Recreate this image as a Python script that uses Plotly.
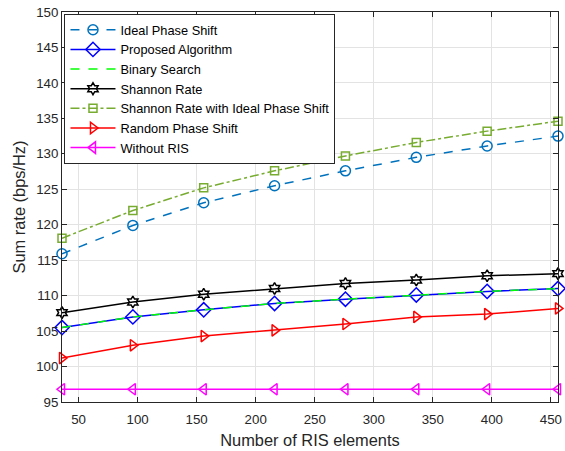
import plotly.graph_objects as go

ris_elements = [36, 96, 156, 216, 276, 336, 396, 456]
ideal_phase = [115.9, 119.9, 123.1, 125.5, 127.6, 129.5, 131.1, 132.5]
proposed = [105.5, 107.0, 108.0, 108.9, 109.5, 110.1, 110.6, 111.0]
binary_search = [105.5, 107.0, 108.0, 108.9, 109.5, 110.1, 110.6, 111.0]
shannon = [107.6, 109.1, 110.2, 111.0, 111.7, 112.2, 112.8, 113.1]
shannon_ideal = [118.1, 122.0, 125.2, 127.6, 129.7, 131.6, 133.2, 134.6]
random_phase = [101.2, 103.0, 104.3, 105.1, 106.0, 107.0, 107.4, 108.2]
without_ris = [96.8, 96.8, 96.8, 96.8, 96.8, 96.8, 96.8, 96.8]

x_ticks = [50, 100, 150, 200, 250, 300, 350, 400, 450]
y_ticks = [95, 100, 105, 110, 115, 120, 125, 130, 135, 140, 145, 150]

series = [
    ("Ideal Phase Shift", ideal_phase, "#0072BD", "dash", "circle-open", 10),
    ("Proposed Algorithm", proposed, "#0000FF", "solid", "diamond-open", 11),
    ("Binary Search", binary_search, "#00FF00", "dash", None, 0),
    ("Shannon Rate", shannon, "#000000", "solid", "hexagram-open", 9),
    ("Shannon Rate with Ideal Phase Shift", shannon_ideal, "#77AC30", "dashdot", "square-open", 8),
    ("Random Phase Shift", random_phase, "#FF0000", "solid", "triangle-right-open", 10),
    ("Without RIS", without_ris, "#FF00FF", "solid", "triangle-left-open", 10),
]

fig = go.Figure()
for name, ys, color, dash, sym, size in series:
    if sym is None:
        fig.add_trace(go.Scatter(x=ris_elements, y=ys, name=name, mode="lines",
                                 cliponaxis=False,
                                 line=dict(color=color, dash=dash, width=1.5)))
    else:
        fig.add_trace(go.Scatter(x=ris_elements, y=ys, name=name, mode="lines+markers",
                                 cliponaxis=False,
                                 line=dict(color=color, dash=dash, width=1.5),
                                 marker=dict(symbol=sym, size=size, color=color,
                                             line=dict(color=color, width=1.5))))

font_family = "Liberation Sans, Arial, sans-serif"
fig.update_layout(
    width=565, height=451,
    margin=dict(l=62, r=7, t=12, b=49),
    paper_bgcolor="white", plot_bgcolor="white",
    font=dict(family=font_family, size=13.3, color="#262626"),
    showlegend=True,
    legend=dict(x=0.005, y=0.995, xanchor="left", yanchor="top",
                bgcolor="white", bordercolor="#262626", borderwidth=1,
                font=dict(size=12.8, color="#000000"),
                tracegroupgap=0, itemwidth=45),
)
fig.update_xaxes(
    range=[36, 456], tickvals=x_ticks, ticktext=[str(v) for v in x_ticks],
    showgrid=True, gridcolor="#e3e3e3", gridwidth=1,
    showline=True, linecolor="#262626", linewidth=1, mirror="ticks",
    ticks="inside", ticklen=5, tickcolor="#262626", ticklabelstandoff=5,
    zeroline=False, automargin=False,
    title=dict(text="Number of RIS elements", font=dict(size=16.4), standoff=8),
)
fig.update_yaxes(
    range=[95, 150], tickvals=y_ticks, ticktext=[str(v) for v in y_ticks],
    showgrid=True, gridcolor="#e3e3e3", gridwidth=1,
    showline=True, linecolor="#262626", linewidth=1, mirror="ticks",
    ticks="inside", ticklen=5, tickcolor="#262626",
    zeroline=False, automargin=False,
    title=dict(text="Sum rate (bps/Hz)", font=dict(size=16.4), standoff=6),
)

fig.write_html("out.html", config={"displayModeBar": False},
               post_script="document.body.style.margin='0px';")
